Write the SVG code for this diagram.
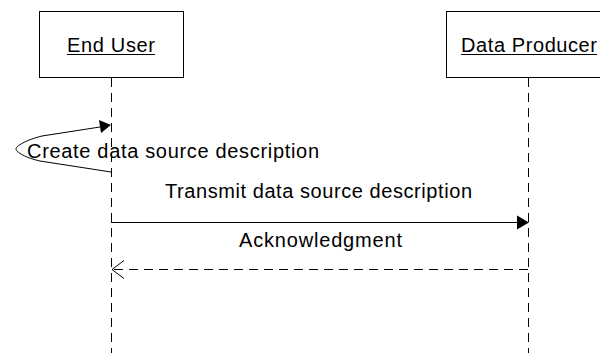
<svg xmlns="http://www.w3.org/2000/svg" width="600" height="353" viewBox="0 0 600 353">
  <style>
    .box { fill: #ffffff; stroke: #000000; stroke-width: 1; }
    .life { stroke: #000000; stroke-width: 1; stroke-dasharray: 9 6; fill: none; }
    .msg { stroke: #000000; stroke-width: 1; fill: none; }
    .ret { stroke: #000000; stroke-width: 1; stroke-dasharray: 9 6; fill: none; }
    .lbl { font-family: "Liberation Sans", Arial, sans-serif; font-size: 20px; fill: #000000; }
    .uline { stroke: #000000; stroke-width: 1; }
  </style>

  <!-- participants -->
  <g id="end-user">
    <rect class="box" x="39.5" y="11.5" width="144" height="66"/>
    <text class="lbl" x="67" y="52" textLength="88">End User</text>
    <line class="uline" x1="67" y1="54.5" x2="155" y2="54.5"/>
  </g>
  <g id="data-producer">
    <rect class="box" x="446.5" y="11.5" width="164" height="66"/>
    <text class="lbl" x="461" y="52" textLength="136">Data Producer</text>
    <line class="uline" x1="461" y1="54.5" x2="597" y2="54.5"/>
  </g>

  <!-- lifelines and messages -->
  <g id="connectors">
    <line class="life" x1="111.5" y1="78" x2="111.5" y2="353"/>
    <line class="life" x1="528.5" y1="78" x2="528.5" y2="353"/>

    <!-- self message -->
    <path class="msg" d="M111,172 L40,161 C26,158 16,152 16,149 C16,146 26,140 42,136 L100,127"/>
    <path d="M99,120 L111,125 L101,133 Z" fill="#000000"/>
    <text class="lbl" x="27" y="158" textLength="292">Create data source description</text>

    <!-- transmit -->
    <line class="msg" x1="111" y1="222.5" x2="518" y2="222.5"/>
    <path d="M517,215.5 L529,222.5 L517,229.5 Z" fill="#000000"/>
    <text class="lbl" x="165" y="198" textLength="307">Transmit data source description</text>

    <!-- acknowledgment -->
    <line class="ret" x1="528" y1="269.5" x2="112" y2="269.5"/>
    <path class="msg" d="M124,260.5 L112,269.5 L124,278.5"/>
    <text class="lbl" x="239" y="247" textLength="163">Acknowledgment</text>
  </g>
</svg>
